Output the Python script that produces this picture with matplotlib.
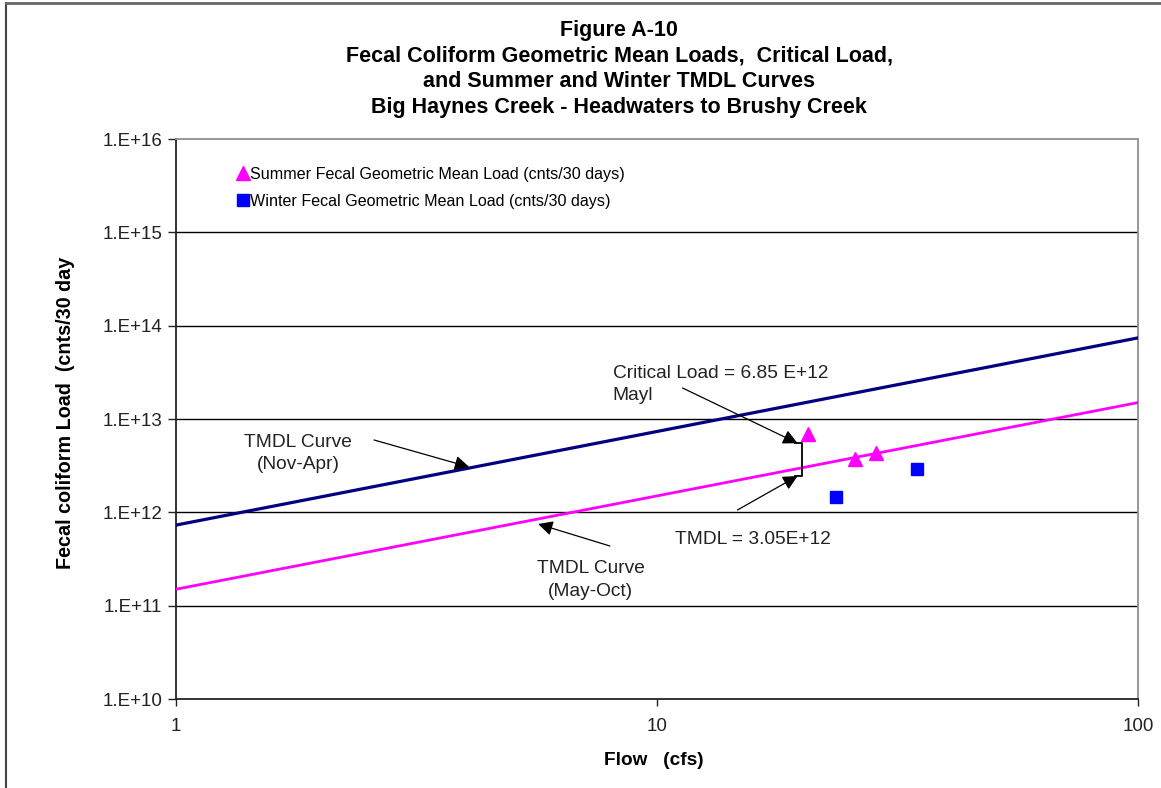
import matplotlib
matplotlib.use("Agg")
import matplotlib.pyplot as plt
from matplotlib.lines import Line2D

plt.rcParams["font.family"] = ["Liberation Sans", "DejaVu Sans"]

# -----------------------------------------------------------------------------
# data
# -----------------------------------------------------------------------------

curve_flow = [1, 100]
winter_tmdl = [7.3e11, 7.4e13]      # TMDL Curve (Nov-Apr)
summer_tmdl = [1.5e11, 1.5e13]      # TMDL Curve (May-Oct)

summer_flow = [20.6, 25.8, 28.5]
summer_load = [6.85e12, 3.75e12, 4.3e12]

winter_flow = [23.6, 34.7]
winter_load = [1.45e12, 2.9e12]

y_ticks = [1e10, 1e11, 1e12, 1e13, 1e14, 1e15, 1e16]
y_tick_labels = ["1.E+10", "1.E+11", "1.E+12", "1.E+13", "1.E+14", "1.E+15", "1.E+16"]
x_ticks = [1, 10, 100]
x_tick_labels = ["1", "10", "100"]

# critical load bracket
bracket_flow = [19.4, 20.0, 20.0, 19.4]
bracket_load = [5.5e12, 5.5e12, 2.45e12, 2.45e12]

title = ("Figure A-10\n"
         "Fecal Coliform Geometric Mean Loads,  Critical Load,\n"
         "and Summer and Winter TMDL Curves\n"
         "Big Haynes Creek - Headwaters to Brushy Creek")

# -----------------------------------------------------------------------------
# plotting
# -----------------------------------------------------------------------------

fig = plt.figure(figsize=(11.61, 7.88), dpi=100)
ax = fig.add_axes([176 / 1161, 1 - 699 / 788, (1138 - 176) / 1161, (699 - 139) / 788])

ax.set_xscale("log")
ax.set_yscale("log")
ax.set_xlim(1, 100)
ax.set_ylim(1e10, 1e16)

for y in y_ticks[1:-1]:
    ax.axhline(y, color="black", lw=1.0, zorder=1)

ax.plot(curve_flow, winter_tmdl, color="#000080", lw=2.3, zorder=3)
ax.plot(curve_flow, summer_tmdl, color="#FF00FF", lw=2.0, zorder=3)

ax.plot(summer_flow, summer_load, linestyle="none", marker="^", ms=10,
        color="#FF00FF", zorder=4)
ax.plot(winter_flow, winter_load, linestyle="none", marker="s", ms=9,
        color="#0000FF", zorder=4)

ax.plot(bracket_flow, bracket_load, color="black", lw=1.3, zorder=4)

arrow_kw = dict(arrowstyle="-|>", color="black", lw=0.9,
                mutation_scale=22, shrinkA=0, shrinkB=0)
ax.annotate("", xy=(19.6, 5.5e12), xytext=(11.3, 2.15e13), arrowprops=arrow_kw, zorder=5)
ax.annotate("", xy=(19.6, 2.45e12), xytext=(14.7, 1.06e12), arrowprops=arrow_kw, zorder=5)
ax.annotate("", xy=(4.07, 3.06e12), xytext=(2.58, 5.96e12), arrowprops=arrow_kw, zorder=5)
ax.annotate("", xy=(5.66, 7.5e11), xytext=(7.98, 4.36e11), arrowprops=arrow_kw, zorder=5)

txt_kw = dict(transform=ax.transAxes, fontsize=13.8, color="#222222", linespacing=1.4)
ax.text(0.127, 0.439, "TMDL Curve\n(Nov-Apr)", ha="center", va="center", **txt_kw)
ax.text(0.431, 0.2125, "TMDL Curve\n(May-Oct)", ha="center", va="center", **txt_kw)
ax.text(0.454, 0.561, "Critical Load = 6.85 E+12\nMayl", ha="left", va="center", **txt_kw)
ax.text(0.519, 0.284, "TMDL = 3.05E+12", ha="left", va="center", **txt_kw)

# legend
handles = [
    Line2D([], [], linestyle="none", marker="^", ms=10, color="#FF00FF"),
    Line2D([], [], linestyle="none", marker="s", ms=9, color="#0000FF"),
]
ax.legend(handles,
          ["Summer Fecal Geometric Mean Load (cnts/30 days)",
           "Winter Fecal Geometric Mean Load (cnts/30 days)"],
          loc="upper left", bbox_to_anchor=(0.058, 0.962), frameon=False,
          fontsize=11.6, handlelength=0.6, handletextpad=0.1, labelspacing=0.75,
          borderaxespad=0)

# axes styling
ax.set_yticks(y_ticks)
ax.set_yticklabels(y_tick_labels)
ax.set_xticks(x_ticks)
ax.set_xticklabels(x_tick_labels)
ax.minorticks_off()
ax.tick_params(axis="y", direction="out", length=6, width=1, labelsize=13.5,
               pad=4, colors="#222222")
ax.tick_params(axis="x", direction="out", length=5, width=1, labelsize=13.5,
               pad=9, colors="#222222")

for side in ["left", "bottom"]:
    ax.spines[side].set_color("#222222")
    ax.spines[side].set_linewidth(1.3)
for side in ["top", "right"]:
    ax.spines[side].set_color("#909090")
    ax.spines[side].set_linewidth(1.3)

ax.set_xlabel("Flow   (cfs)", fontsize=13.7, fontweight="bold")
ax.xaxis.set_label_coords(0.497, -0.094)
ax.set_ylabel("Fecal coliform Load  (cnts/30 day", fontsize=14.2,
              fontweight="bold")
ax.yaxis.set_label_coords(-0.105, 0.511)

fig.text(619 / 1161, 1 - 69 / 788, title, ha="center", va="center",
         fontsize=15.5, fontweight="bold", linespacing=1.3)

# outer frame of the original figure (only top and left visible)
fig.add_artist(Line2D([6 / 1161, 6 / 1161], [0, 1 - 3 / 788],
                      transform=fig.transFigure, color="#444444", lw=1.5))
fig.add_artist(Line2D([6 / 1161, 1], [1 - 3 / 788, 1 - 3 / 788],
                      transform=fig.transFigure, color="#666666", lw=2.0))

fig.savefig("out.png", dpi=100)
plt.close(fig)
